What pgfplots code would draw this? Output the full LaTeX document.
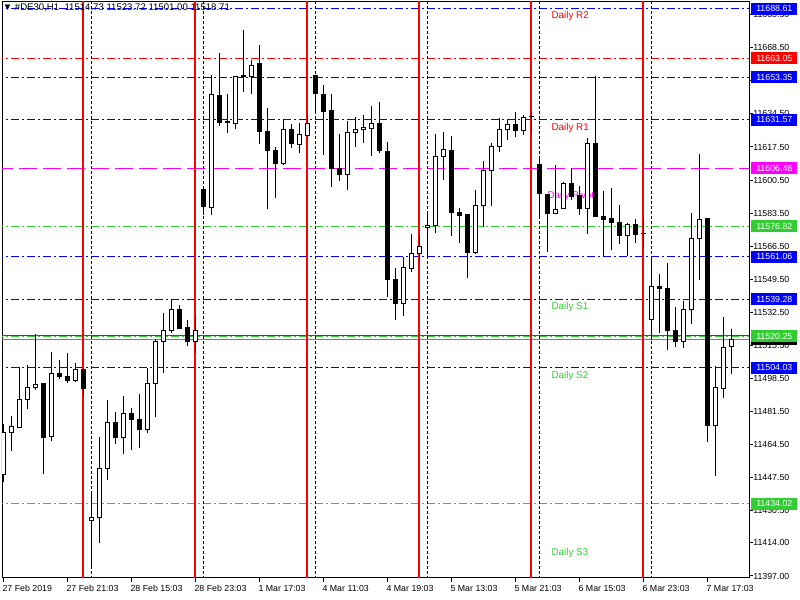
\documentclass[border=0pt]{standalone}
\usepackage{pgfplots}
\pgfplotsset{compat=1.18}
\usepackage{pgfplotstable}
\usepackage{fontspec}
\setmainfont{Liberation Sans}
\definecolor{mtgreen}{RGB}{50,205,50}
\definecolor{mtblue}{RGB}{0,0,255}
\definecolor{mtred}{RGB}{255,0,0}
\definecolor{mtmag}{RGB}{255,0,255}
\definecolor{bidgray}{RGB}{128,128,128}
\newcommand{\lbl}{\fontsize{6.6}{8}\selectfont}
\newcommand{\hlbl}{\fontsize{7.2}{8}\selectfont}
\newcommand{\dlbl}{\fontsize{7.4}{9}\selectfont}

\pgfplotstableread{
x o h l c
0 11449.3 11475.0 11445.5 11470.8
1 11470.8 11479.2 11461.4 11473.9
2 11473.4 11504.3 11473.0 11487.8
3 11487.8 11505.3 11483.0 11494.0
4 11494.0 11521.4 11492.7 11495.5
5 11496.0 11496.2 11449.5 11468.0
6 11468.8 11512.1 11466.5 11501.2
7 11501.3 11508.0 11498.4 11499.4
8 11499.6 11511.6 11496.4 11497.4
9 11497.4 11506.3 11496.9 11503.2
10 11503.2 11503.4 11489.7 11493.3
11 11425.6 11439.0 11400.7 11427.2
12 11427.2 11468.3 11413.8 11452.3
13 11452.3 11487.3 11446.5 11476.0
14 11476.0 11481.1 11465.0 11468.0
15 11468.3 11489.4 11459.5 11480.6
16 11480.6 11483.2 11461.6 11477.3
17 11477.5 11490.4 11462.6 11472.4
18 11472.4 11503.7 11470.3 11496.0
19 11496.0 11518.7 11478.9 11517.6
20 11517.6 11532.0 11501.2 11523.0
21 11523.3 11539.2 11521.7 11534.1
22 11534.1 11536.1 11524.0 11524.3
23 11524.8 11528.4 11515.1 11517.6
24 11517.6 11529.9 11511.5 11523.3
25 11595.9 11596.5 11582.5 11586.8
26 11586.5 11654.5 11582.5 11644.7
27 11644.2 11665.8 11628.3 11630.0
28 11630.0 11644.7 11624.8 11630.4
29 11629.7 11653.8 11626.6 11653.8
30 11653.8 11677.6 11645.9 11654.0
31 11653.8 11662.2 11644.7 11659.5
32 11660.2 11669.9 11619.1 11625.4
33 11625.6 11637.4 11585.8 11615.6
34 11615.9 11617.5 11591.4 11608.9
35 11608.9 11631.9 11608.1 11626.7
36 11626.7 11629.3 11617.1 11619.4
37 11618.9 11629.8 11614.5 11624.0
38 11623.5 11634.5 11622.0 11629.7
39 11654.0 11654.5 11635.3 11644.9
40 11644.7 11649.4 11613.4 11635.6
41 11636.0 11644.7 11597.1 11606.3
42 11606.5 11624.2 11600.2 11603.3
43 11603.3 11631.0 11595.5 11624.7
44 11625.1 11632.9 11617.6 11626.6
45 11626.6 11633.9 11619.7 11627.6
46 11627.1 11638.6 11613.0 11629.7
47 11629.7 11640.6 11614.5 11615.6
48 11615.3 11620.1 11540.3 11549.5
49 11549.5 11555.1 11528.5 11537.1
50 11537.1 11561.1 11530.8 11555.6
51 11555.1 11572.8 11553.4 11562.9
52 11562.9 11571.8 11559.4 11566.5
53 11576.2 11583.7 11561.1 11577.2
54 11577.2 11624.2 11573.1 11612.7
55 11612.5 11625.2 11600.5 11616.3
56 11615.9 11623.1 11571.7 11583.7
57 11583.9 11586.0 11568.3 11582.2
58 11582.6 11582.8 11550.0 11563.4
59 11563.2 11595.4 11562.7 11587.5
60 11587.5 11610.5 11576.5 11605.2
61 11605.3 11619.6 11587.3 11617.8
62 11617.8 11632.2 11614.8 11626.6
63 11626.6 11631.4 11621.2 11628.8
64 11628.8 11635.3 11622.8 11626.1
65 11626.1 11633.9 11623.8 11632.7
66 11633.2 11635.6 11624.8 11633.4
67 11608.6 11611.7 11582.1 11593.7
68 11593.3 11593.5 11563.7 11583.1
69 11583.4 11608.1 11583.0 11585.5
70 11586.0 11599.5 11585.5 11598.8
71 11598.8 11606.5 11590.3 11592.3
72 11592.8 11597.5 11582.5 11586.0
73 11586.0 11621.9 11572.6 11619.4
74 11619.4 11654.0 11581.8 11582.0
75 11582.0 11594.9 11561.1 11580.3
76 11580.5 11596.3 11564.5 11578.6
77 11578.8 11587.7 11567.5 11571.9
78 11571.9 11578.6 11561.6 11577.9
79 11577.4 11580.3 11568.3 11572.6
80 11573.0 11580.3 11566.3 11573.2
81 11528.9 11560.0 11518.3 11546.0
82 11546.0 11552.2 11522.0 11544.6
83 11545.0 11557.7 11513.2 11523.1
84 11523.4 11535.4 11514.8 11517.4
85 11517.4 11538.3 11514.3 11534.1
86 11534.1 11583.7 11526.4 11570.6
87 11570.6 11613.9 11549.1 11580.3
88 11580.8 11581.0 11465.7 11474.2
89 11474.2 11505.1 11448.5 11494.0
90 11493.5 11529.9 11488.6 11514.5
91 11514.73 11523.72 11501.00 11518.71
}\candles

\pgfplotsset{
  mtaxis/.style={
    at={(0pt,0pt)}, anchor=south west, scale only axis,
    width=560.25pt, height=432pt,
    xmin=-0.1625, xmax=93.21, ymin=11395.96, ymax=11692.02,
  },
}
\tikzset{
  dashdot mt/.style={line width=0.75pt, dash pattern=on 6pt off 2.25pt on 1.5pt off 2.25pt},
  dash mt/.style={line width=0.75pt, dash pattern=on 13.5pt off 4.5pt},
  dot mt/.style={line width=0.75pt, dash pattern=on 2.25pt off 1.5pt},
  pbox/.style={anchor=west, inner sep=0pt, minimum width=34.5pt, minimum height=9pt, text=white, font=\lbl, xshift=1.5pt},
}

\begin{document}
\begin{tikzpicture}
\path[use as bounding box] (-1.5pt,-16.5pt) rectangle (598.5pt,433.5pt);
\begin{axis}[mtaxis,
  axis line style={black, line width=0.75pt},
  tick align=outside, major tick length=3pt,
  tick style={black, line width=0.75pt},
  xtick pos=bottom, ytick pos=right, yticklabel pos=right,
  xtick={0,8,...,88},
  xticklabels={27 Feb 2019, 27 Feb 21:03, 28 Feb 15:03, 28 Feb 23:03, 1 Mar 17:03, 4 Mar 11:03, 4 Mar 19:03, 5 Mar 13:03, 5 Mar 21:03, 6 Mar 15:03, 6 Mar 23:03, 7 Mar 17:03},
  xticklabel style={anchor=north west, inner sep=0pt, font=\lbl, xshift=-0.75pt, yshift=-2.5pt},
  ytick={11397,11414,11430.5,11447.5,11464.5,11481.5,11498.5,11515.5,11532.5,11549.5,11566.5,11583.5,11600.5,11617.5,11634.5,11651.5,11668.5,11685.5},
  yticklabels={11397.00,11414.00,11430.50,11447.50,11464.50,11481.50,11498.50,11515.50,11532.50,11549.50,11566.50,11583.50,11600.50,11617.50,11634.50,11651.50,11668.50,11685.50},
  yticklabel style={anchor=west, inner sep=0pt, font=\lbl},
]
% horizontal levels
\addplot[mtblue, dashdot mt] coordinates {(-1,11688.61) (95,11688.61)};
\addplot[mtred, dashdot mt] coordinates {(-1,11663.05) (95,11663.05)};
\addplot[mtblue, dashdot mt] coordinates {(-1,11653.35) (95,11653.35)};
\addplot[mtblue, dashdot mt] coordinates {(-1,11631.57) (95,11631.57)};
\addplot[mtmag, dash mt] coordinates {(-1,11606.48) (95,11606.48)};
\addplot[mtgreen, dashdot mt] coordinates {(-1,11576.82) (95,11576.82)};
\addplot[mtblue, dashdot mt] coordinates {(-1,11561.06) (95,11561.06)};
\addplot[mtblue, dashdot mt] coordinates {(-1,11539.28) (95,11539.28)};
\addplot[mtred, line width=0.75pt] coordinates {(-1,11520.71) (95,11520.71)};
\addplot[mtgreen, dashdot mt] coordinates {(-1,11520.25) (95,11520.25)};
\addplot[bidgray, line width=0.75pt] coordinates {(-1,11518.71) (95,11518.71)};
\addplot[mtblue, dashdot mt] coordinates {(-1,11504.03) (95,11504.03)};
\addplot[mtgreen, dashdot mt] coordinates {(-1,11434.02) (95,11434.02)};
% day separators
\addplot[mtred, line width=1.5pt] coordinates {(10,11380) (10,11700)};
\addplot[mtred, line width=1.5pt] coordinates {(24,11380) (24,11700)};
\addplot[mtred, line width=1.5pt] coordinates {(38,11380) (38,11700)};
\addplot[mtred, line width=1.5pt] coordinates {(52,11380) (52,11700)};
\addplot[mtred, line width=1.5pt] coordinates {(66,11380) (66,11700)};
\addplot[mtred, line width=1.5pt] coordinates {(80,11380) (80,11700)};
\addplot[black, dot mt] coordinates {(11,11380) (11,11700)};
\addplot[black, dot mt] coordinates {(25,11380) (25,11700)};
\addplot[black, dot mt] coordinates {(39,11380) (39,11700)};
\addplot[black, dot mt] coordinates {(53,11380) (53,11700)};
\addplot[black, dot mt] coordinates {(67,11380) (67,11700)};
\addplot[black, dot mt] coordinates {(81,11380) (81,11700)};
% pivot texts
\node[anchor=west, inner sep=0pt, text=mtred, font=\dlbl] at (axis cs:68.5,11684.8) {Daily R2};
\node[anchor=west, inner sep=0pt, text=mtred, font=\dlbl] at (axis cs:68.5,11627.3) {Daily R1};
\node[anchor=west, inner sep=0pt, text=mtmag, font=\dlbl] at (axis cs:68.0,11592.3) {Daily Pivot};
\node[anchor=west, inner sep=0pt, text=mtgreen, font=\dlbl] at (axis cs:68.5,11535.3) {Daily S1};
\node[anchor=west, inner sep=0pt, text=mtgreen, font=\dlbl] at (axis cs:68.5,11499.8) {Daily S2};
\node[anchor=west, inner sep=0pt, text=mtgreen, font=\dlbl] at (axis cs:68.5,11408.8) {Daily S3};
% wicks
\addplot[draw=none, mark=none,
  error bars/.cd, y dir=plus, y explicit,
  error bar style={draw=black, solid, line width=0.75pt}, error mark=none]
  table[x=x, y=l, y error expr=\thisrow{h}-\thisrow{l}] {\candles};
\end{axis}
\begin{axis}[mtaxis, hide axis, ybar stacked, bar width=0.45, clip mode=individual]
\addplot[draw=none, fill=none] table[x=x, y expr={min(\thisrow{o},\thisrow{c})}] {\candles};
\addplot[draw=black, fill=white, line width=0.75pt] table[x=x, y expr={max(\thisrow{c}-\thisrow{o},0)}] {\candles};
\addplot[draw=black, fill=black, line width=0.75pt] table[x=x, y expr={max(\thisrow{o}-\thisrow{c},0)}] {\candles};
% price boxes
\node[pbox, fill=mtblue] at (axis cs:93.21,11688.61) {11688.61};
\node[pbox, fill=mtred] at (axis cs:93.21,11663.05) {11663.05};
\node[pbox, fill=mtblue] at (axis cs:93.21,11653.35) {11653.35};
\node[pbox, fill=mtblue] at (axis cs:93.21,11631.57) {11631.57};
\node[pbox, fill=mtmag] at (axis cs:93.21,11606.48) {11606.48};
\node[pbox, fill=mtgreen] at (axis cs:93.21,11576.82) {11576.82};
\node[pbox, fill=mtblue] at (axis cs:93.21,11561.06) {11561.06};
\node[pbox, fill=mtblue] at (axis cs:93.21,11539.28) {11539.28};
\node[pbox, fill=mtgreen] at (axis cs:93.21,11520.25) {11520.25};
\node[pbox, fill=black] at (axis cs:93.21,11518.71) {11518.71};
\node[pbox, fill=mtblue] at (axis cs:93.21,11504.03) {11504.03};
\node[pbox, fill=mtgreen] at (axis cs:93.21,11434.02) {11434.02};
% header
\node[anchor=west, inner sep=0pt, font=\hlbl, xshift=0.4pt, yshift=-4.6pt] at (rel axis cs:0,1) {▼ \#DE30,H1\ \ 11514.73 11523.72 11501.00 11518.71};
\end{axis}
\end{tikzpicture}
\end{document}
